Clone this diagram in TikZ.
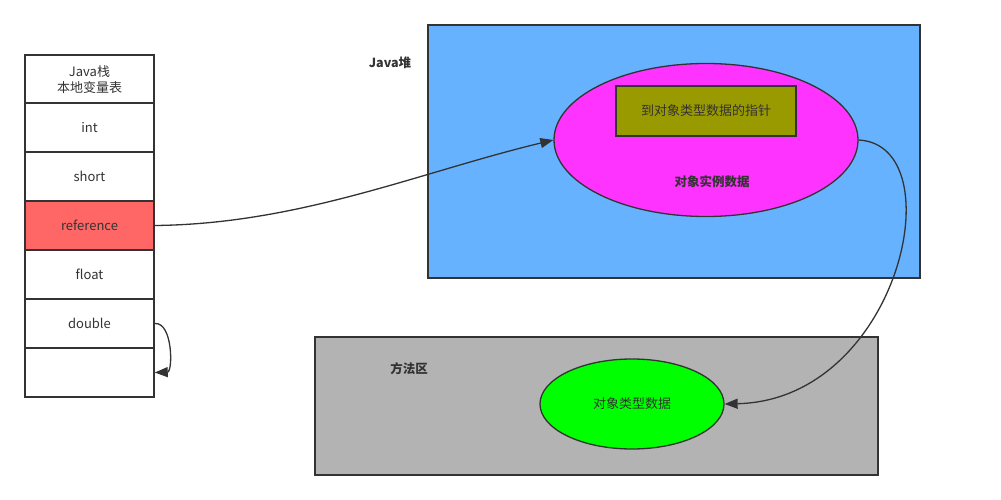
\documentclass[tikz,border=0pt]{standalone}
\usepackage{fontspec}
\setmainfont{Noto Sans CJK SC}
\usetikzlibrary{shapes.geometric,arrows.meta,positioning}
\definecolor{heapblue}{RGB}{102,178,255}
\definecolor{methodgray}{RGB}{179,179,179}
\definecolor{refred}{RGB}{255,102,102}
\definecolor{objpink}{RGB}{255,51,255}
\definecolor{ptrolive}{RGB}{153,153,0}
\definecolor{typegreen}{RGB}{0,255,0}
\definecolor{inkgray}{RGB}{51,51,51}
\tikzset{
  slot/.style={draw=inkgray,line width=1.5pt,fill=white,minimum width=129pt,
               minimum height=49pt,inner sep=0pt,align=center,text=inkgray,
               font=\fontsize{13}{16}\selectfont},
  area/.style={draw=inkgray,line width=1.5pt,inner sep=0pt},
  blob/.style={ellipse,draw=inkgray,line width=1.3pt,inner sep=0pt,text=inkgray,
               font=\fontsize{13}{16}\selectfont},
  tag/.style={text=inkgray,font=\fontsize{12.5}{15}\selectfont\bfseries},
  link/.style={draw=inkgray,line width=1.3pt,-{Triangle[length=13pt,width=10pt]}}
}
\begin{document}
\begin{tikzpicture}[x=1pt,y=-1pt]
  \useasboundingbox (0,0) rectangle (1001,500);
  % Java stack
  \node[slot] (head) at (89.5,79.5) {Java栈\\[0pt]本地变量表};
  \foreach \nm/\txt [count=\i] in {int/int,short/short,ref/reference,flt/float,dbl/double,empty/}
    \node[slot] (\nm) at (89.5,78.5+49*\i) {\txt};
  \node[slot,fill=refred] (ref) at (89.5,225.5) {reference};
  % Java heap
  \node[area,fill=heapblue,minimum width=492pt,minimum height=253pt] (heap) at (674,151.5) {};
  \node[tag] (heaptag) at (390,63) {Java堆};
  \node[blob,fill=objpink,minimum width=304pt,minimum height=153pt] (obj) at (706,140) {};
  \node[area,fill=ptrolive,minimum width=180pt,minimum height=50pt,text=inkgray,
        font=\fontsize{13}{16}\selectfont] (ptr) at (706,111) {到对象类型数据的指针};
  \node[tag] (objtag) at (712,182) {对象实例数据};
  % method area
  \node[area,fill=methodgray,minimum width=563pt,minimum height=138pt] (method) at (596.5,406) {};
  \node[tag] (methodtag) at (409,369) {方法区};
  \node[blob,fill=typegreen,minimum width=184pt,minimum height=90pt] (type) at (632,404) {对象类型数据};
  % links
  \draw[link] (ref.east) .. controls (300,224) and (420,172) .. (obj.west);
  \draw[link] (obj.east) .. controls (955,145) and (900,400) .. (type.east);
  \draw[link] (dbl.east) .. controls (173,322) and (173,372) .. (empty.east);
\end{tikzpicture}
\end{document}
